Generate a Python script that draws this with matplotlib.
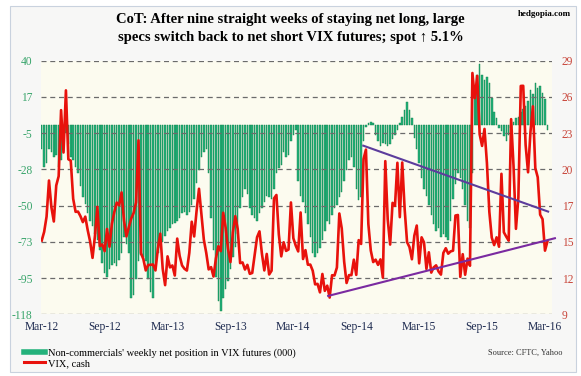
import matplotlib.pyplot as plt
import numpy as np
from matplotlib.lines import Line2D
from matplotlib.patches import Rectangle

# weekly data, Mar-2012 .. Mar-2016 (210 weeks)
tick_labels = ["Mar-12", "Sep-12", "Mar-13", "Sep-13", "Mar-14",
               "Sep-14", "Mar-15", "Sep-15", "Mar-16"]
left_labels = ["40", "17", "-5", "-28", "-50", "-73", "-95", "-118"]
right_labels = ["29", "26", "23", "20", "17", "15", "12", "9"]

# non-commercials' net position in VIX futures (000)
net_position = [
    -15, -26, -24, -15, -17, -20, -19, -26, -22, -16,
    -5, -12, -20, -22, -26, -30, -38, -45, -49, -55,
    -60, -63, -68, -72, -78, -86, -92, -95, -90, -87,
    -86, -88, -84, -80, -70, -74, -80, -108, -106, -96,
    -85, -81, -82, -85, -96, -104, -108, -90, -80, -77,
    -73, -69, -66, -64, -62, -61, -60, -58, -55, -54,
    -56, -54, -50, -46, -36, -28, -20, -17, -15, -30,
    -58, -78, -95, -110, -116, -108, -102, -97, -90, -82,
    -76, -68, -52, -45, -40, -43, -52, -56, -58, -60,
    -55, -52, -48, -44, -45, -46, -40, -30, -27, -25,
    -17, -20, -19, -10, -6, -3, -35, -44, -48, -55,
    -62, -70, -80, -82, -80, -77, -72, -66, -60, -62,
    -56, -52, -50, -45, -42, -35, -28, -22, -20, -26,
    -40, -47, -45, -10, -1, 1, 1.5, 1, -6, -10,
    -13, -11, -12, -13, -12, -9, -6, -3, 1, 5,
    9, 14, 9, 4, -8, -15, -24, -33, -40, -44,
    -50, -56, -62, -66, -64, -70, -68, -70, -72, -60,
    -46, -37, -30, -33, -40, -50, -60, -64, -30, 18,
    31, 38, 31, 28, 30, 26, 17, 8, 4, -2,
    -4, -7, -10, -6, -2, 2, 4, 5, 8, 10,
    12, 15, 22, 19, 26, 23, 24, 20, 16, -3,
]

# VIX, cash (weekly close)
vix = [
    14.82, 15.50, 16.70, 19.55, 17.44, 16.32, 19.16, 19.89, 25.10, 21.76,
    26.66, 21.23, 21.11, 18.11, 17.08, 17.10, 16.74, 16.27, 16.70, 15.64,
    14.74, 13.45, 15.18, 17.47, 14.38, 14.51, 13.98, 15.73, 14.33, 16.14,
    17.06, 17.81, 17.59, 18.61, 16.41, 15.14, 15.87, 16.56, 17.00, 17.84,
    22.72, 13.83, 13.36, 12.46, 12.89, 12.90, 12.93, 12.46, 14.17, 15.36,
    12.59, 11.30, 13.57, 12.70, 12.85, 12.06, 14.97, 13.61, 12.85, 12.59,
    12.45, 13.85, 16.30, 15.14, 17.15, 18.90, 16.86, 14.89, 13.84, 12.54,
    12.72, 11.98, 13.41, 14.37, 13.98, 17.01, 15.85, 14.16, 13.12, 15.46,
    16.74, 15.72, 13.04, 13.09, 12.53, 12.90, 12.19, 12.26, 13.70, 15.08,
    15.54, 13.79, 12.46, 13.76, 12.14, 12.44, 18.14, 18.41, 15.29, 13.57,
    14.68, 14.00, 14.11, 17.82, 15.00, 14.41, 13.96, 17.03, 13.36, 14.06,
    12.91, 12.92, 12.44, 11.36, 11.40, 10.73, 12.18, 10.85, 11.26, 10.32,
    12.08, 12.06, 12.69, 16.95, 15.77, 13.15, 11.47, 12.09, 12.09, 13.31,
    12.11, 14.85, 14.55, 21.24, 21.99, 16.11, 14.03, 13.12, 13.31, 12.90,
    13.33, 11.89, 21.08, 16.49, 14.50, 17.79, 17.55, 20.95, 16.66, 20.97,
    17.29, 14.69, 14.30, 13.34, 15.20, 16.00, 13.02, 15.07, 14.67, 12.58,
    13.89, 12.29, 12.70, 12.86, 12.38, 12.13, 13.84, 14.21, 13.78, 13.96,
    14.02, 16.79, 16.83, 11.95, 13.74, 12.12, 13.39, 12.83, 28.03, 26.05,
    27.80, 23.20, 22.28, 23.62, 20.94, 17.08, 15.05, 14.46, 15.07, 14.33,
    20.08, 15.47, 15.12, 14.81, 24.39, 20.70, 15.74, 18.21, 27.01, 27.02,
    22.34, 20.20, 23.38, 25.40, 20.53, 19.81, 16.86, 16.50, 14.02, 14.74,
]

# hand-drawn trend lines on the VIX scale (week index, VIX)
trend_upper_x = [132.9, 209.3]
trend_upper_y = [22.3, 17.1]
trend_lower_x = [118.4, 212.1]
trend_lower_y = [10.45, 15.0]

SERIF = ["Liberation Serif", "DejaVu Serif"]
GREEN_TXT = "#3aa56c"
RED_TXT = "#c8453a"
NAVY = "#1e2b50"

fig = plt.figure(figsize=(5.81, 3.76), dpi=100)
fig.patch.set_facecolor("white")
frame = Rectangle((10 / 581, 4 / 376), 566 / 581, 366 / 376,
                  transform=fig.transFigure, facecolor="#f7f7f6",
                  edgecolor="#c9d2de", linewidth=0.8, zorder=-10)
fig.patches.append(frame)

ax = fig.add_axes([41 / 581, 1 - 314.3 / 376, 511 / 581, 253.6 / 376])
ax.set_zorder(1)
ax.set_facecolor("#fcfbef")
x = np.arange(len(net_position))
ax.bar(x, net_position, width=0.62, color="#24b27b", edgecolor="#108049",
       linewidth=0.3, zorder=1)
ax.set_xlim(-0.3, 210.9)
ax.set_ylim(-118, 40)
ax.set_yticks(np.linspace(40, -118, 8))
ax.set_yticklabels(left_labels, family=SERIF, fontsize=8.3, color=GREEN_TXT)
ax.set_xticks(np.arange(0, 210, 26))
ax.set_xticklabels(tick_labels, family=SERIF, fontsize=8.3, color=NAVY)
ax.tick_params(length=0)
ax.tick_params(axis="y", pad=6)
ax.tick_params(axis="x", pad=5)
ax.grid(axis="y", linestyle=(0, (4, 3)), color="#6b6b6b", linewidth=0.9)
ax.set_axisbelow(False)
for s in ax.spines.values():
    s.set_visible(False)

ax2 = ax.twinx()
ax2.plot(x, vix, color="#e8120c", linewidth=1.9, zorder=3)
ax2.plot(trend_upper_x, trend_upper_y, color="#5c3c9c", linewidth=1.5,
         zorder=4, clip_on=False)
ax2.plot(trend_lower_x, trend_lower_y, color="#7a2aa0", linewidth=1.5,
         zorder=4, clip_on=False)
ax2.set_ylim(9, 29)
ax2.set_yticks(np.linspace(29, 9, 8))
ax2.set_yticklabels(right_labels, family=SERIF, fontsize=8.3, color=RED_TXT)
ax2.tick_params(length=0, pad=7)
for s in ax2.spines.values():
    s.set_visible(False)

fig.text(0.5, 1 - 20 / 376,
         "CoT: After nine straight weeks of staying net long, large",
         ha="center", va="center", fontsize=10.5, fontweight="bold", family=SERIF)
fig.text(0.5, 1 - 37 / 376,
         "specs switch back to net short VIX futures; spot \u2191 5.1%",
         ha="center", va="center", fontsize=10.5, fontweight="bold", family=SERIF)
fig.text(571 / 581, 1 - 14 / 376, "hedgopia.com", ha="right", va="center",
         fontsize=6.5, fontweight="bold", family=SERIF)

handles = [Line2D([], [], color="#24b27b", linewidth=4),
           Line2D([], [], color="#e8120c", linewidth=2.2)]
fig.legend(handles,
           ["Non-commercials' weekly net position in VIX futures (000)",
            "VIX, cash"],
           loc="lower left", bbox_to_anchor=(24 / 581, 8 / 376), frameon=False,
           prop={"family": SERIF, "size": 7.5}, handlelength=2.0,
           handletextpad=0.3, labelspacing=0.05, borderpad=0, borderaxespad=0)
fig.text(563 / 581, 1 - 353 / 376, "Source: CFTC, Yahoo", ha="right",
         va="center", fontsize=6, family=SERIF, color="#333333")

fig.savefig("out.png", dpi=100)
